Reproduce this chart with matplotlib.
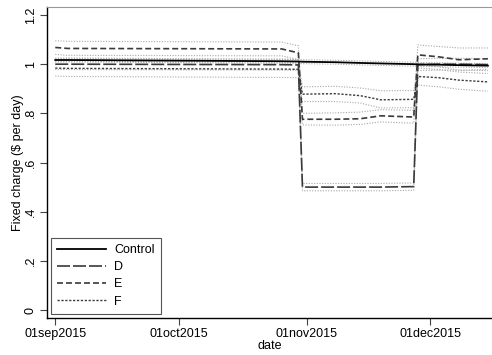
import matplotlib
matplotlib.use("Agg")
import matplotlib.pyplot as plt
import pandas as pd

plt.rcParams["font.family"] = ["Liberation Sans", "DejaVu Sans"]
plt.rcParams["font.size"] = 9

# knot dates shared by all series
dates = pd.to_datetime([
    "2015-09-01", "2015-09-04", "2015-10-26", "2015-10-30", "2015-10-31",
    "2015-11-08", "2015-11-14", "2015-11-19", "2015-11-27", "2015-11-28",
    "2015-12-03", "2015-12-08", "2015-12-15",
])

control = [1.017, 1.017, 1.012, 1.011, 1.010, 1.008, 1.005, 1.003, 1.000, 0.999, 0.998, 0.996, 0.994]
control_hi = [1.025, 1.025, 1.020, 1.019, 1.018, 1.016, 1.013, 1.011, 1.008, 1.007, 1.006, 1.004, 1.002]
control_lo = [1.009, 1.009, 1.004, 1.003, 1.002, 1.000, 0.997, 0.995, 0.992, 0.991, 0.990, 0.988, 0.986]

d_mean = [1.000, 1.000, 0.998, 0.997, 0.500, 0.500, 0.500, 0.500, 0.502, 0.998, 1.000, 1.000, 0.998]
d_hi = [1.022, 1.022, 1.020, 1.019, 0.515, 0.515, 0.515, 0.515, 0.517, 1.022, 1.024, 1.024, 1.022]
d_lo = [0.978, 0.978, 0.976, 0.975, 0.485, 0.485, 0.485, 0.485, 0.487, 0.974, 0.976, 0.976, 0.974]

e_mean = [1.068, 1.064, 1.062, 1.046, 0.776, 0.776, 0.778, 0.790, 0.785, 1.038, 1.030, 1.018, 1.022]
e_hi = [1.095, 1.093, 1.090, 1.075, 0.800, 0.802, 0.805, 0.815, 0.812, 1.078, 1.072, 1.066, 1.066]
e_lo = [1.040, 1.036, 1.034, 1.018, 0.753, 0.752, 0.755, 0.765, 0.760, 0.998, 0.990, 0.975, 0.978]

f_mean = [0.984, 0.983, 0.980, 0.979, 0.878, 0.880, 0.872, 0.855, 0.857, 0.950, 0.945, 0.935, 0.928]
f_hi = [1.012, 1.012, 1.008, 1.007, 0.908, 0.910, 0.903, 0.892, 0.893, 0.985, 0.978, 0.968, 0.962]
f_lo = [0.952, 0.950, 0.946, 0.945, 0.848, 0.848, 0.842, 0.822, 0.823, 0.915, 0.908, 0.898, 0.890]

ytick_vals = [0, 0.2, 0.4, 0.6, 0.8, 1.0, 1.2]
ytick_labels = ["0", ".2", ".4", ".6", ".8", "1", "1.2"]
xtick_dates = pd.to_datetime(["2015-09-01", "2015-10-01", "2015-11-01", "2015-12-01"])
xtick_labels = ["01sep2015", "01oct2015", "01nov2015", "01dec2015"]

fig = plt.figure(figsize=(4.92, 3.55), dpi=100)
ax = fig.add_axes([47 / 492, 1 - 318 / 355, 445 / 492, 311 / 355])

# dotted confidence bands
ci_style = dict(color="#a8a8a8", linewidth=0.8, linestyle=(0, (1, 1.4)))
for lo, hi in [(control_lo, control_hi), (d_lo, d_hi), (e_lo, e_hi), (f_lo, f_hi)]:
    ax.plot(dates, lo, **ci_style)
    ax.plot(dates, hi, **ci_style)

ax.plot(dates, control, color="black", linewidth=1.3, label="Control", zorder=5)
ax.plot(dates, d_mean, color="#3a3a3a", linewidth=1.2, dashes=(7.8, 1.8), label="D", zorder=4)
ax.plot(dates, e_mean, color="#3a3a3a", linewidth=1.2, dashes=(3.6, 1.8), label="E", zorder=4)
ax.plot(dates, f_mean, color="#3a3a3a", linewidth=1.0, dashes=(1.6, 1.2), label="F", zorder=4)

ax.set_xlim(pd.Timestamp("2015-08-30"), pd.Timestamp("2015-12-16"))
ax.set_ylim(-0.0325, 1.2326)

ax.set_yticks(ytick_vals)
ax.set_yticklabels(ytick_labels, rotation=90, va="center")
ax.set_xticks(xtick_dates)
ax.set_xticklabels(xtick_labels)
ax.tick_params(axis="both", length=5, width=0.8, color="#444444", pad=2.5)

ax.set_ylabel("Fixed charge ($ per day)")
ax.yaxis.set_label_coords(-23 / 445, 0.5)
ax.set_xlabel("date", labelpad=0)

ax.spines["left"].set_linewidth(1.0)
ax.spines["bottom"].set_linewidth(1.0)
ax.spines["top"].set_color("#999999")
ax.spines["top"].set_linewidth(0.8)
ax.spines["right"].set_visible(False)

leg = ax.legend(loc="lower left", bbox_to_anchor=(0.009, 0.013), borderaxespad=0,
                fancybox=False, edgecolor="#555555", framealpha=1,
                handlelength=3.9, handletextpad=0.65, labelspacing=0.42,
                borderpad=0.5)
leg.get_frame().set_linewidth(0.8)

fig.savefig("out.png", dpi=100)
